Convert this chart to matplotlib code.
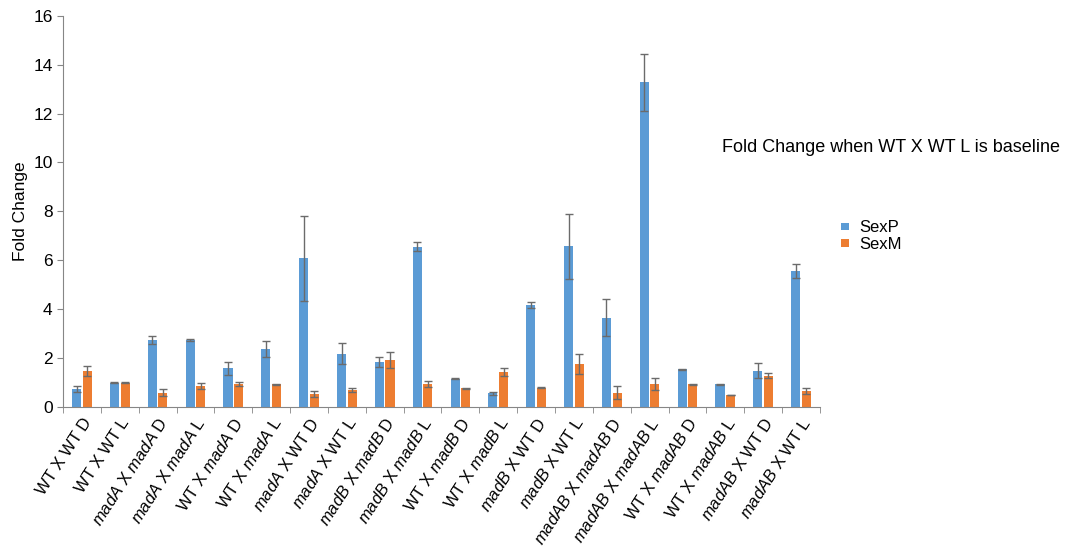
import matplotlib.pyplot as plt
import numpy as np

plt.rcParams['font.family'] = ['Liberation Sans', 'DejaVu Sans']
plt.rcParams['mathtext.fontset'] = 'custom'
plt.rcParams['mathtext.it'] = 'Liberation Sans:italic'
plt.rcParams['mathtext.rm'] = 'Liberation Sans'

crosses = [r"WT X WT D", r"WT X WT L",
           r"$madA$ X $madA$ D", r"$madA$ X $madA$ L",
           r"WT X $madA$ D", r"WT X $madA$ L",
           r"$madA$ X WT D", r"$madA$ X WT L",
           r"$madB$ X $madB$ D", r"$madB$ X $madB$ L",
           r"WT X $madB$ D", r"WT X $madB$ L",
           r"$madB$ X WT D", r"$madB$ X WT L",
           r"$madAB$ X $madAB$ D", r"$madAB$ X $madAB$ L",
           r"WT X $madAB$ D", r"WT X $madAB$ L",
           r"$madAB$ X WT D", r"$madAB$ X WT L"]

sexP = [0.74, 1.0, 2.74, 2.74, 1.58, 2.37, 6.08, 2.17, 1.85, 6.55,
        1.16, 0.56, 4.17, 6.58, 3.65, 13.27, 1.54, 0.93, 1.48, 5.56]
sexP_err = [0.12, 0.02, 0.18, 0.04, 0.26, 0.34, 1.73, 0.43, 0.21, 0.18,
            0.02, 0.07, 0.14, 1.33, 0.75, 1.16, 0.03, 0.03, 0.31, 0.29]
sexM = [1.47, 1.0, 0.58, 0.86, 0.93, 0.93, 0.52, 0.70, 1.92, 0.94,
        0.77, 1.44, 0.79, 1.74, 0.59, 0.93, 0.93, 0.49, 1.28, 0.67]
sexM_err = [0.22, 0.02, 0.14, 0.11, 0.08, 0.02, 0.13, 0.09, 0.34, 0.12,
            0.02, 0.17, 0.02, 0.41, 0.27, 0.24, 0.02, 0.02, 0.09, 0.12]

fig = plt.figure(figsize=(10.71, 5.55), dpi=100)
ax = fig.add_axes([0.0588, 0.2667, 0.7068, 0.705])

x = np.arange(len(crosses))
w = 0.24
err_kw = dict(ecolor='#6b6b6b', elinewidth=1, capsize=3, capthick=1)
ax.bar(x - w / 2 - 0.02, sexP, w, yerr=sexP_err, color='#5B9BD5',
       label='SexP', error_kw=err_kw)
ax.bar(x + w / 2 + 0.02, sexM, w, yerr=sexM_err, color='#ED7D31',
       label='SexM', error_kw=err_kw)

ax.set_xlim(-0.5, len(crosses) - 0.5)
ax.set_ylim(0, 16)
ax.set_yticks(range(0, 17, 2))
ax.set_xticks(x)
ax.set_xticklabels(crosses, rotation=57, ha='right', rotation_mode='anchor',
                   fontsize=12)
ax.set_xticks(np.arange(-0.5, len(crosses), 1), minor=True)
ax.tick_params(axis='x', which='major', length=0, pad=6)
ax.tick_params(axis='x', which='minor', length=4, color='#868686')
ax.tick_params(axis='y', length=4, color='#868686', labelsize=12.5)

for s in ['top', 'right']:
    ax.spines[s].set_visible(False)
for s in ['left', 'bottom']:
    ax.spines[s].set_color('#868686')

ax.set_ylabel('Fold Change', fontsize=12.5)

fig.text(0.674, 0.727, 'Fold Change when WT X WT L is baseline', fontsize=13)
fig.legend(loc='upper left', bbox_to_anchor=(0.771, 0.63), frameon=False,
           fontsize=12, handlelength=0.5, handleheight=0.3,
           handletextpad=0.6, labelspacing=0.1)

plt.savefig('out.png')
